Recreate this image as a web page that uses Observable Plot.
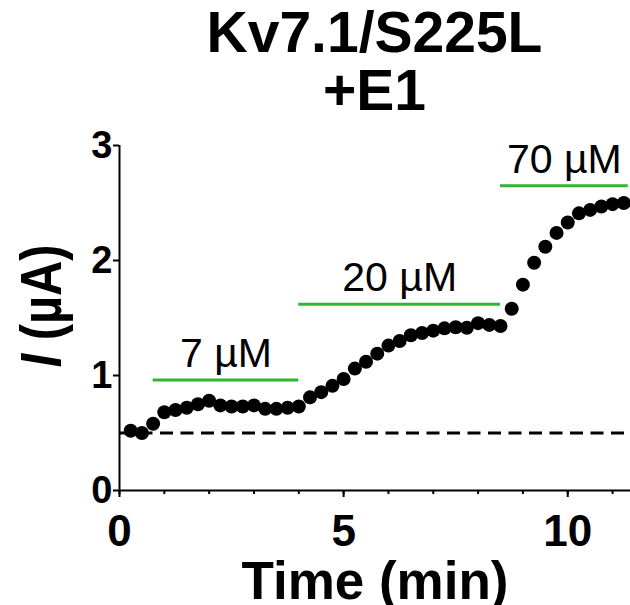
<!DOCTYPE html>
<html><head><meta charset="utf-8">
<script src="https://cdn.jsdelivr.net/npm/d3@7"></script>
<script src="https://cdn.jsdelivr.net/npm/@observablehq/plot@0.6"></script>
<style>
html,body{margin:0;padding:0;background:#fff;}
#wrap{width:630px;height:605px;position:relative;overflow:hidden;background:#fff;}
#title{height:125px;box-sizing:border-box;padding:3px 0 0 119px;font:bold 57px/58px "Liberation Sans",Arial,sans-serif;text-align:center;color:#000;margin:0;}
#chart svg{display:block;}
</style></head>
<body><div id="wrap"><div id="title">Kv7.1/S225L<br>+E1</div><div id="chart"></div></div>
<script>
// Recording times (min)
const time = [0.25,0.5,0.75,1.0,1.25,1.5,1.75,2.0,2.25,2.5,2.75,3.0,3.25,3.5,3.75,4.0,
  4.25,4.5,4.75,5.0,5.25,5.5,5.75,6.0,6.25,6.5,6.75,7.0,7.25,7.5,7.75,8.0,8.25,8.5,
  8.75,9.0,9.25,9.5,9.75,10.0,10.25,10.5,10.75,11.0,11.25];
// Current I (µA)
const current = [0.52,0.50,0.58,0.68,0.70,0.72,0.75,0.78,0.74,0.73,0.73,0.74,0.71,0.71,0.72,0.73,
  0.81,0.855,0.91,0.97,1.06,1.12,1.19,1.26,1.30,1.35,1.37,1.39,1.41,1.42,1.415,1.455,1.44,1.43,
  1.58,1.79,1.98,2.12,2.24,2.33,2.41,2.44,2.47,2.49,2.50];
// Drug application bars
const concLabel = ["7 µM","20 µM","70 µM"];
const concStart = [0.75,4.0,8.5];
const concEnd = [4.0,8.5,11.35];
const concLevel = [0.96,1.62,2.65];
const baselineLevel = [0.5];
const xTicks = [0,5,10];
const xMinorTicks = [0,1,2,3,4,5,6,7,8,9,10,11];
const yTicks = [0,1,2,3];
const xLabel = "Time (min)";
const yLabel = "I (µA)";

const points = time.map((t,i)=>({t, v: current[i]}));
const segs = concLabel.map((label,i)=>({label, start: concStart[i], end: concEnd[i], level: concLevel[i]}));
const font = '"Liberation Sans", Arial, sans-serif';

const plot = Plot.plot({
  width: 630, height: 480,
  marginTop: 20, marginBottom: 115, marginLeft: 119, marginRight: 0,
  x: {domain: [0, 11.4], label: null},
  y: {domain: [0, 3], label: null},
  style: {fontFamily: font, color: "#000", background: "#fff", overflow: "visible"},
  marks: [
    Plot.ruleY(baselineLevel, {strokeWidth: 3, strokeDasharray: "13,7.5"}),
    Plot.ruleY(segs, {y: "level", x1: "start", x2: "end", stroke: "#2fb52f", strokeWidth: 3}),
    Plot.text(segs, {x: d => (d.start + d.end) / 2, y: "level", text: "label", dy: -13, lineAnchor: "bottom", fontSize: 41}),
    Plot.dot(points, {x: "t", y: "v", r: 7, fill: "#000"}),
    Plot.axisX({ticks: xMinorTicks, tickSize: 4, tickFormat: () => "", strokeWidth: 2, label: null}),
    Plot.axisX({ticks: xTicks, tickSize: 7, tickFormat: () => "", strokeWidth: 2, label: null}),
    Plot.axisX({ticks: xTicks, tickSize: 0, tickPadding: 24, tickFormat: d3.format("d"), fontSize: 44, fontWeight: "bold", label: null}),
    Plot.axisY({ticks: yTicks, tickSize: 6, tickFormat: () => "", strokeWidth: 2, label: null}),
    Plot.axisY({ticks: yTicks, tickSize: 0, tickPadding: 7, tickFormat: d3.format("d"), fontSize: 38, fontWeight: "bold", label: null}),
    Plot.ruleX([0], {strokeWidth: 2}),
    Plot.ruleY([0], {strokeWidth: 2}),
    Plot.text([xLabel], {frameAnchor: "bottom", lineAnchor: "bottom", textAnchor: "middle", dy: 108, fontSize: 53, fontWeight: "bold"}),
    Plot.text([yLabel], {frameAnchor: "left", rotate: -90, lineAnchor: "bottom", textAnchor: "middle", dx: -59, dy: -12, fontSize: 58, fontWeight: "bold"})
  ]
});
document.getElementById("chart").appendChild(plot);

// italic "I" in the y label, condensed along its run like the reference
const yl = d3.select(plot).selectAll("text").filter(function() { return this.textContent === yLabel; });
yl.text(null);
yl.append("tspan").attr("font-style", "italic").style("font-style", "italic").text("I");
yl.append("tspan").text(" (µA)");
yl.attr("transform", yl.attr("transform") + " scale(0.84,1)");
</script>
</body></html>
